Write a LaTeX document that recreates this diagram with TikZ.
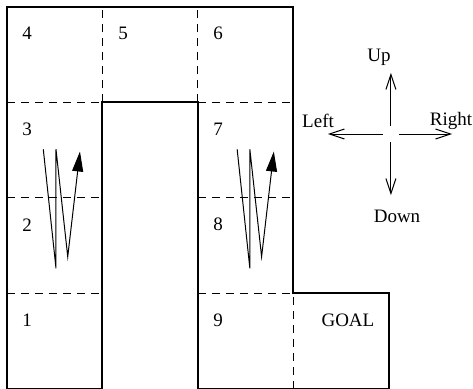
\documentclass[tikz,border=0pt]{standalone}
\usepackage{fontspec}
\setmainfont{Liberation Serif}
\usetikzlibrary{arrows.meta}

\tikzset{
  wall/.style={draw=black, line width=\mazeWallWidth, line join=miter},
  gridline/.style={draw=black, line width=\mazeGridWidth, dash pattern=on 4pt off 3pt},
  cellnum/.style={inner sep=0pt, anchor=center},
  zigzag/.style={draw=black, line width=0.5pt, -{Triangle[length=10pt,width=5.5pt]}},
  compass/.style={draw=black, line width=0.5pt, -{Straight Barb[length=7.5pt,width=5pt]}}
}

\begin{document}
\begin{tikzpicture}
% TikZ maze of nine cells and a goal
\def\cellsz{47.75pt}
\providecommand{\mazeWallWidth}{1pt}
\providecommand{\mazeGridWidth}{0.5pt}
\begin{scope}[x=\cellsz, y=\cellsz, font=\fontsize{9.5}{11}\selectfont]
  % Page frame
  \useasboundingbox (-0.0733,0) rectangle (4.8796,4.0733);
  % Dashed cell borders
  \draw[gridline] (0,3) -- (1,3);
  \draw[gridline] (2,3) -- (3,3);
  \draw[gridline] (0,2) -- (1,2);
  \draw[gridline] (2,2) -- (3,2);
  \draw[gridline] (0,1) -- (1,1);
  \draw[gridline] (2,1) -- (3,1);
  \draw[gridline] (1,3) -- (1,4);
  \draw[gridline] (2,3) -- (2,4);
  \draw[gridline] (3,0) -- (3,1);
  % Walls
  \draw[wall] (0,0) -- (0,4) -- (3,4) -- (3,1) -- (4,1) -- (4,0) -- (2,0)
    -- (2,3) -- (1,3) -- (1,0) -- cycle;
  % Cell numbers
  \node[cellnum] (c1) at (0.21,0.72) {1};
  \node[cellnum] (c2) at (0.21,1.72) {2};
  \node[cellnum] (c3) at (0.21,2.72) {3};
  \node[cellnum] (c4) at (0.21,3.72) {4};
  \node[cellnum] (c5) at (1.215,3.72) {5};
  \node[cellnum] (c6) at (2.21,3.72) {6};
  \node[cellnum] (c7) at (2.21,2.72) {7};
  \node[cellnum] (c8) at (2.21,1.72) {8};
  \node[cellnum] (c9) at (2.21,0.72) {9};
  \node[cellnum] (goal) at (3.57,0.72) {GOAL};
  % Zig-zag moves in the two corridors
  \foreach \dx in {0,2.03} {
    \draw[zigzag] (0.380+\dx,2.510) -- (0.513+\dx,1.264) -- (0.513+\dx,2.510)
      -- (0.636+\dx,1.385) -- (0.764+\dx,2.487);
  }
  % Compass
  \coordinate (ctr) at (4.02,2.67);
  \node[cellnum] (up) at (3.896,3.476) {Up};
  \node[cellnum] (left) at (3.257,2.806) {Left};
  \node[cellnum] (right) at (4.649,2.806) {Right};
  \node[cellnum] (down) at (4.084,1.81) {Down};
  \draw[compass] ([shift={(0,0.085)}]ctr) -- ([shift={(0,0.64)}]ctr);
  \draw[compass] ([shift={(0,-0.085)}]ctr) -- ([shift={(0,-0.64)}]ctr);
  \draw[compass] ([shift={(-0.085,0)}]ctr) -- ([shift={(-0.66,0)}]ctr);
  \draw[compass] ([shift={(0.085,0)}]ctr) -- ([shift={(0.64,0)}]ctr);
\end{scope}
\end{tikzpicture}
\end{document}
